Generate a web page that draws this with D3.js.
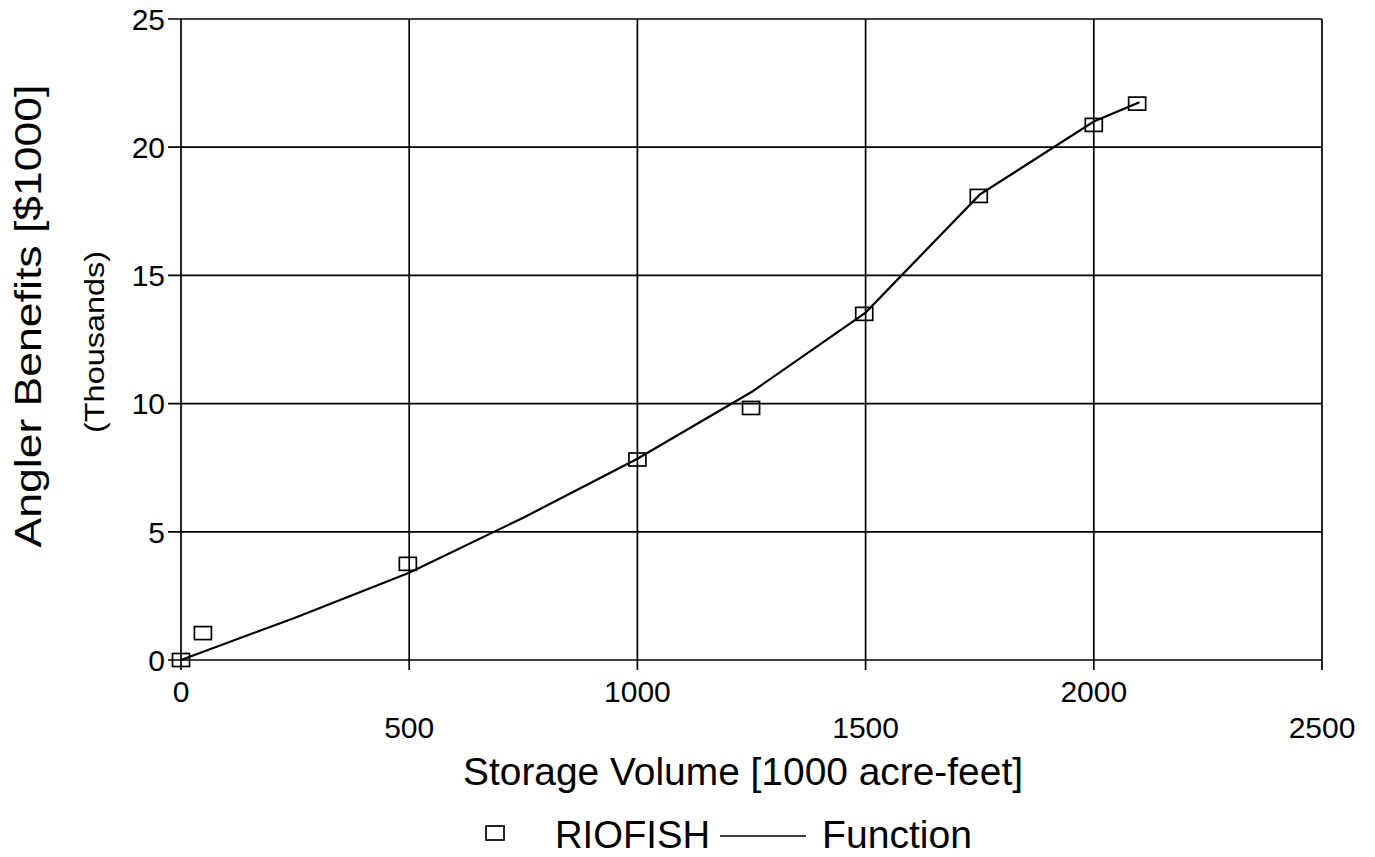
<!DOCTYPE html>
<html>
<head>
<meta charset="utf-8">
<script src="https://cdn.jsdelivr.net/npm/d3@7"></script>
<style>
  body { margin: 0; background: #fff; }
  text { font-family: "Liberation Sans", Arial, sans-serif; fill: #000; }
</style>
</head>
<body>
<div class="chart"></div>
<script>
// RIOFISH points and fitted function
var fishX = [0, 48, 497, 1000, 1249, 1497, 1748, 2000, 2095];
var fishY = [0, 1.05, 3.75, 7.82, 9.83, 13.5, 18.1, 20.87, 21.7];
var funcX = [0, 250, 500, 750, 1000, 1250, 1500, 1750, 2000, 2100];
var funcY = [0, 1.65, 3.4, 5.55, 7.85, 10.45, 13.55, 18.15, 21.0, 21.75];
var xTicks = [0, 500, 1000, 1500, 2000, 2500];
var yTicks = [0, 5, 10, 15, 20, 25];

var svgWidth = 1375;
var svgHeight = 857;
var margin = { top: 19, right: 53, bottom: 197, left: 181 };
var width = svgWidth - margin.left - margin.right;
var height = svgHeight - margin.top - margin.bottom;

var svg = d3.select(".chart")
    .append("svg")
    .attr("width", svgWidth)
    .attr("height", svgHeight);
var chart = svg.append("g")
    .attr("transform", "translate(" + margin.left + "," + margin.top + ")");

var xScale = d3.scaleLinear().domain([0, 2500]).range([0, width]);
var yScale = d3.scaleLinear().domain([0, 25]).range([height, 0]);

// grid
chart.selectAll(".vgrid")
    .data(xTicks)
    .enter()
    .append("line")
    .attr("x1", function(d) { return xScale(d); })
    .attr("x2", function(d) { return xScale(d); })
    .attr("y1", 0)
    .attr("y2", height + 10)
    .attr("stroke", "#000")
    .attr("stroke-width", 1.7);
chart.selectAll(".hgrid")
    .data(yTicks)
    .enter()
    .append("line")
    .attr("x1", -13)
    .attr("x2", width)
    .attr("y1", function(d) { return yScale(d); })
    .attr("y2", function(d) { return yScale(d); })
    .attr("stroke", "#000")
    .attr("stroke-width", 1.7);

// y tick labels
chart.selectAll(".ylab")
    .data(yTicks)
    .enter()
    .append("text")
    .attr("x", -16)
    .attr("y", function(d) { return yScale(d); })
    .attr("dy", "0.36em")
    .attr("text-anchor", "end")
    .style("font-size", "30px")
    .text(function(d) { return d; });

// x tick labels, staggered in two rows
chart.selectAll(".xlab")
    .data(xTicks)
    .enter()
    .append("text")
    .attr("x", function(d) { return xScale(d); })
    .attr("y", function(d, i) { return height + (i % 2 === 0 ? 42 : 78); })
    .attr("text-anchor", "middle")
    .style("font-size", "30px")
    .text(function(d) { return d; });

// function line
var line = d3.line()
    .x(function(d) { return xScale(d[0]); })
    .y(function(d) { return yScale(d[1]); });
chart.append("path")
    .datum(d3.zip(funcX, funcY))
    .attr("d", line)
    .attr("fill", "none")
    .attr("stroke", "#000")
    .attr("stroke-width", 2.2);

// RIOFISH squares
chart.selectAll(".pt")
    .data(d3.zip(fishX, fishY))
    .enter()
    .append("rect")
    .attr("x", function(d) { return xScale(d[0]) - 8.5; })
    .attr("y", function(d) { return yScale(d[1]) - 6.5; })
    .attr("width", 17)
    .attr("height", 13)
    .attr("fill", "none")
    .attr("stroke", "#000")
    .attr("stroke-width", 1.7);

// axis titles
svg.append("text")
    .attr("x", 743)
    .attr("y", 785)
    .attr("text-anchor", "middle")
    .style("font-size", "39px")
    .attr("textLength", 560)
    .attr("lengthAdjust", "spacingAndGlyphs")
    .text("Storage Volume [1000 acre-feet]");
svg.append("text")
    .attr("transform", "translate(41,316) rotate(-90)")
    .attr("text-anchor", "middle")
    .style("font-size", "36px")
    .attr("textLength", 463)
    .attr("lengthAdjust", "spacingAndGlyphs")
    .text("Angler Benefits [$1000]");
svg.append("text")
    .attr("transform", "translate(104,342) rotate(-90)")
    .attr("text-anchor", "middle")
    .style("font-size", "28px")
    .attr("textLength", 182)
    .attr("lengthAdjust", "spacingAndGlyphs")
    .text("(Thousands)");

// legend
var legend = svg.append("g");
legend.append("rect")
    .attr("x", 486).attr("y", 826).attr("width", 18).attr("height", 14)
    .attr("fill", "none").attr("stroke", "#000").attr("stroke-width", 1.7);
legend.append("text")
    .attr("x", 555).attr("y", 848)
    .style("font-size", "38px")
    .attr("textLength", 155)
    .attr("lengthAdjust", "spacingAndGlyphs")
    .text("RIOFISH");
legend.append("line")
    .attr("x1", 720).attr("x2", 806).attr("y1", 836).attr("y2", 836)
    .attr("stroke", "#000").attr("stroke-width", 1.7);
legend.append("text")
    .attr("x", 822).attr("y", 848)
    .style("font-size", "38px")
    .attr("textLength", 150)
    .attr("lengthAdjust", "spacingAndGlyphs")
    .text("Function");
</script>
</body>
</html>
